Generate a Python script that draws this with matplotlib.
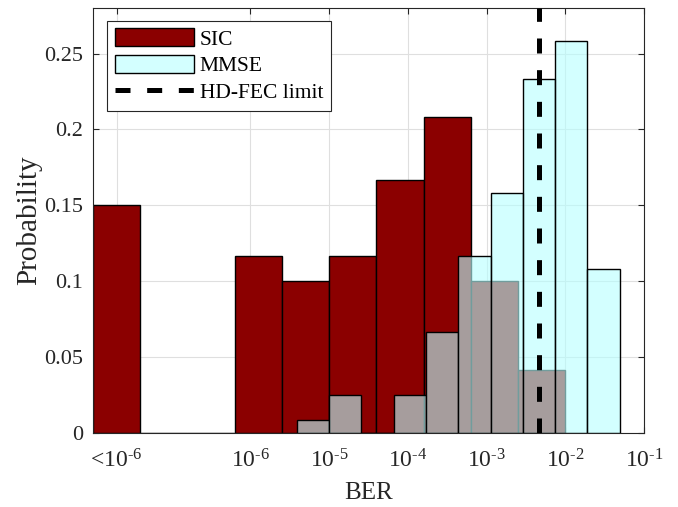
import matplotlib
matplotlib.use('Agg')
import matplotlib.pyplot as plt
import numpy as np

plt.rcParams['font.family'] = ['Liberation Serif', 'DejaVu Serif']
plt.rcParams['mathtext.fontset'] = 'custom'
plt.rcParams['mathtext.rm'] = 'Liberation Serif'
plt.rcParams['mathtext.it'] = 'Liberation Serif:italic'
plt.rcParams['mathtext.bf'] = 'Liberation Serif:bold'
plt.rcParams['lines.scale_dashes'] = False

# bin edges (log10 BER) and probabilities
sic_edges = [-8.0, -7.4, -6.8, -6.2, -5.6, -5.0, -4.4, -3.8, -3.2, -2.6, -2.0]
sic_prob = [0.150, 0.0, 0.0, 0.1167, 0.100, 0.1167, 0.1667, 0.2083, 0.100, 0.0417]
mmse_edges = [-5.41, -5.0, -4.59, -4.18, -3.77, -3.36, -2.95, -2.54, -2.13, -1.72, -1.31]
mmse_prob = [0.0083, 0.025, 0.0, 0.025, 0.0667, 0.1167, 0.1583, 0.2333, 0.2583, 0.1083]
hd_fec = 4.7e-3

xtick_pos = [2e-8, 1e-6, 1e-5, 1e-4, 1e-3, 1e-2, 1e-1]
xtick_lab = [r'<$10^{\text{-}6}$', r'$10^{\text{-}6}$', r'$10^{\text{-}5}$', r'$10^{\text{-}4}$',
             r'$10^{\text{-}3}$', r'$10^{\text{-}2}$', r'$10^{\text{-}1}$']
ytick_pos = [0, 0.05, 0.1, 0.15, 0.2, 0.25]
ytick_lab = ['0', '0.05', '0.1', '0.15', '0.2', '0.25']

W, H = 678, 507
fig = plt.figure(figsize=(W / 100, H / 100), dpi=100)
ax = fig.add_axes([93 / W, (H - 433) / H, (644 - 93) / W, (433 - 8) / H])
ax.set_xscale('log')


def edges_to_bars(edges):
    e = 10.0 ** np.array(edges)
    return e[:-1], e[1:] - e[:-1]


x0, w0 = edges_to_bars(sic_edges)
h_sic = ax.bar(x0, sic_prob, width=w0, align='edge', color='#8b0000',
               edgecolor='black', linewidth=1.0, label='SIC', zorder=2)
x1, w1 = edges_to_bars(mmse_edges)
h_mmse = ax.bar(x1, mmse_prob, width=w1, align='edge', color=(0.72, 1.0, 1.0, 0.62),
                edgecolor='black', linewidth=1.0, label='MMSE', zorder=3)
h_fec, = ax.plot([hd_fec, hd_fec], [0, 0.28], color='black', linewidth=3.6,
                 dashes=(10.8, 12.0), label='HD-FEC limit', zorder=4)

ax.set_xlim(1e-8, 1e-1)
ax.set_ylim(0, 0.28)
ax.set_xticks(xtick_pos)
ax.set_xticklabels(xtick_lab)
ax.xaxis.set_minor_locator(matplotlib.ticker.NullLocator())
ax.set_yticks(ytick_pos)
ax.set_yticklabels(ytick_lab)
ax.tick_params(direction='in', length=4.5, width=0.8, top=True, right=True,
               labelsize=16, pad=7, colors='#262626', labelcolor='#262626')
ax.tick_params(axis='x', labelsize=17, pad=11.5)
ax.set_axisbelow(True)
ax.grid(True, color='#dfdfdf', linewidth=0.8)
for s in ax.spines.values():
    s.set_color('#262626')
    s.set_linewidth(0.8)

ax.set_xlabel('BER', fontsize=18, color='#262626', labelpad=7)
ax.set_ylabel('Probability', fontsize=21, color='#262626', labelpad=1.5)

leg = ax.legend([h_sic, h_mmse, h_fec], ['SIC', 'MMSE', 'HD-FEC limit'],
                loc='upper left', bbox_to_anchor=((107.3 - 93) / 551, 1 - (20.7 - 8) / 425),
                borderaxespad=0, fontsize=15.5, fancybox=False, framealpha=1,
                edgecolor='#262626', handlelength=3.7, handleheight=0.9,
                handletextpad=0.25, labelspacing=0.25, borderpad=0.35)
leg.get_frame().set_linewidth(0.8)

fig.savefig('out.png', dpi=100)
